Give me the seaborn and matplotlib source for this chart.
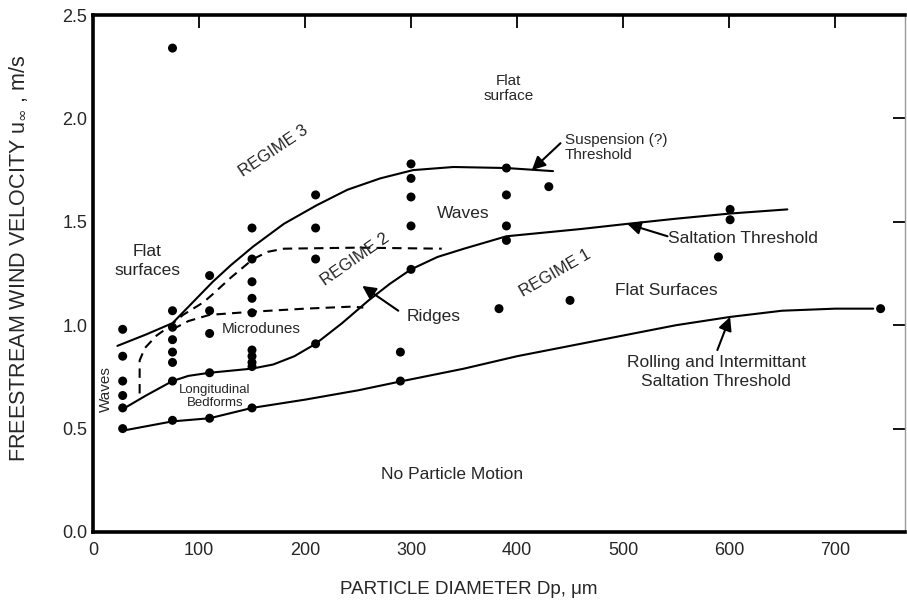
import matplotlib
matplotlib.use("Agg")
import matplotlib.pyplot as plt
import seaborn as sns
import pandas as pd

# ---------------- data ----------------
pt_x = [28, 28, 28, 28, 28, 28,
        75, 75, 75, 75, 75, 75, 75, 75,
        110, 110, 110, 110, 110,
        150, 150, 150, 150, 150, 150, 150, 150, 150, 150,
        210, 210, 210, 210,
        290, 290,
        300, 300, 300, 300, 300,
        383,
        390, 390, 390, 390,
        430, 450, 590, 601, 601, 743]
pt_y = [0.98, 0.85, 0.73, 0.66, 0.60, 0.50,
        2.34, 1.07, 0.99, 0.93, 0.87, 0.82, 0.73, 0.54,
        1.24, 1.07, 0.96, 0.77, 0.55,
        1.47, 1.32, 1.21, 1.13, 1.06, 0.88, 0.85, 0.82, 0.80, 0.60,
        1.63, 1.47, 1.32, 0.91,
        0.87, 0.73,
        1.78, 1.71, 1.62, 1.48, 1.27,
        1.08,
        1.76, 1.63, 1.48, 1.41,
        1.67, 1.12, 1.33, 1.56, 1.51, 1.08]

rolling_x = [28, 75, 110, 150, 200, 250, 292, 350, 400, 450, 500, 550, 601, 650, 700, 736]
rolling_y = [0.49, 0.535, 0.55, 0.60, 0.64, 0.685, 0.73, 0.79, 0.85, 0.90, 0.95, 1.00, 1.04, 1.07, 1.08, 1.08]

salt_x = [30, 50, 75, 90, 110, 130, 150, 170, 190, 210, 235, 260, 280, 300, 325, 350, 390, 430, 460, 504, 550, 601, 655]
salt_y = [0.60, 0.66, 0.73, 0.755, 0.77, 0.78, 0.79, 0.81, 0.85, 0.91, 1.01, 1.12, 1.20, 1.27, 1.33, 1.37, 1.43, 1.45, 1.465, 1.49, 1.515, 1.54, 1.56]

susp_x = [23, 50, 75, 94, 113, 130, 151, 180, 211, 240, 271, 302, 340, 390, 434]
susp_y = [0.90, 0.955, 1.01, 1.11, 1.21, 1.29, 1.38, 1.49, 1.58, 1.655, 1.71, 1.75, 1.765, 1.76, 1.745]

dash_up_x = [44, 44, 49, 60, 71, 85, 104, 113, 130, 151, 165, 180, 250, 329]
dash_up_y = [0.67, 0.83, 0.89, 0.95, 0.99, 1.05, 1.11, 1.15, 1.23, 1.32, 1.355, 1.37, 1.375, 1.37]

dash_lo_x = [75, 90, 110, 150, 200, 245, 255]
dash_lo_y = [0.98, 1.02, 1.05, 1.065, 1.08, 1.09, 1.085]

x_ticks = [0, 100, 200, 300, 400, 500, 600, 700]
y_ticks = [0.0, 0.5, 1.0, 1.5, 2.0, 2.5]

# ---------------- style ----------------
sns.set_style("white")
plt.rcParams["font.family"] = ["Liberation Sans", "DejaVu Sans"]
plt.rcParams["mathtext.fontset"] = "dejavusans"

fig = plt.figure(figsize=(9.07, 6.06), dpi=100)
ax = fig.add_axes([93 / 907, 74 / 606, 812 / 907, 517 / 606])

def curve(xs, ys, ls="-"):
    df = pd.DataFrame({"x": xs, "y": ys})
    sns.lineplot(data=df, x="x", y="y", sort=False, estimator=None, ax=ax,
                 color="black", lw=1.5, linestyle=ls)

curve(rolling_x, rolling_y)
curve(salt_x, salt_y)
curve(susp_x, susp_y)
curve(dash_up_x, dash_up_y, ls=(0, (4.5, 3)))
curve(dash_lo_x, dash_lo_y, ls=(0, (4.5, 3)))

pts = pd.DataFrame({"x": pt_x, "y": pt_y})
sns.scatterplot(data=pts, x="x", y="y", ax=ax, color="black", s=42,
                edgecolor="none", zorder=5)

ax.set_xlim(0, 766)
ax.set_ylim(0, 2.5)
ax.set_xticks(x_ticks)
ax.set_yticks(y_ticks)
ax.set_xticklabels([str(v) for v in x_ticks])
ax.set_yticklabels([f"{v:.1f}" for v in y_ticks])
ax.tick_params(direction="in", length=9, width=1.3, top=True, right=True,
               labelsize=13, color="black")
ax.tick_params(axis="y", pad=4)
ax.tick_params(axis="x", pad=7)

for side in ["left", "bottom", "top"]:
    ax.spines[side].set_linewidth(2.6)
    ax.spines[side].set_color("black")
ax.spines["right"].set_linewidth(1.0)
ax.spines["right"].set_color("#999999")

ax.set_xlabel("PARTICLE DIAMETER Dp, μm", fontsize=13.5)
ax.set_ylabel(r"FREESTREAM WIND VELOCITY u$_{\infty}$ , m/s", fontsize=15.5)
ax.xaxis.set_label_coords(0.463, -0.094)
ax.yaxis.set_label_coords(-0.078, 0.53)

# ---------------- annotations ----------------
def txt(x, y, s, fs=12.5, rot=0, ha="center", ls=1.2):
    ax.text(x, y, s, fontsize=fs, rotation=rot, ha=ha, va="center",
            linespacing=ls, rotation_mode="anchor")

txt(392, 2.145, "Flat\nsurface", fs=11, ls=1.05)
txt(445, 1.86, "Suspension (?)\nThreshold", fs=11, ha="left", ls=1.05)
txt(170, 1.84, "REGIME 3", fs=12, rot=34)
txt(51, 1.31, "Flat\nsurfaces", fs=12.5, ls=1.4)
txt(247, 1.32, "REGIME 2", fs=12, rot=35)
txt(349, 1.54, "Waves", fs=12.5)
txt(436, 1.25, "REGIME 1", fs=12, rot=30)
txt(541, 1.17, "Flat Surfaces", fs=12.5)
txt(542, 1.42, "Saltation Threshold", fs=12.5, ha="left")
txt(588, 0.775, "Rolling and Intermittant\nSaltation Threshold", fs=12.5, ls=1.3)
txt(296, 1.04, "Ridges", fs=12.5, ha="left")
txt(159, 0.98, "Microdunes", fs=11)
txt(115, 0.655, "Longitudinal\nBedforms", fs=9.5, ls=1.08)
txt(12, 0.69, "Waves", fs=11, rot=90)
txt(339, 0.28, "No Particle Motion", fs=12.5)

arrow = dict(arrowstyle="-|>", lw=1.5, color="black", mutation_scale=20,
             shrinkA=0, shrinkB=0)
ax.annotate("", xy=(414, 1.75), xytext=(441, 1.88), arrowprops=arrow)
ax.annotate("", xy=(504, 1.49), xytext=(542, 1.43), arrowprops=arrow)
ax.annotate("", xy=(601, 1.04), xytext=(589, 0.88), arrowprops=arrow)
ax.annotate("", xy=(254, 1.19), xytext=(288, 1.07), arrowprops=arrow)

fig.savefig("out.png", dpi=100)
